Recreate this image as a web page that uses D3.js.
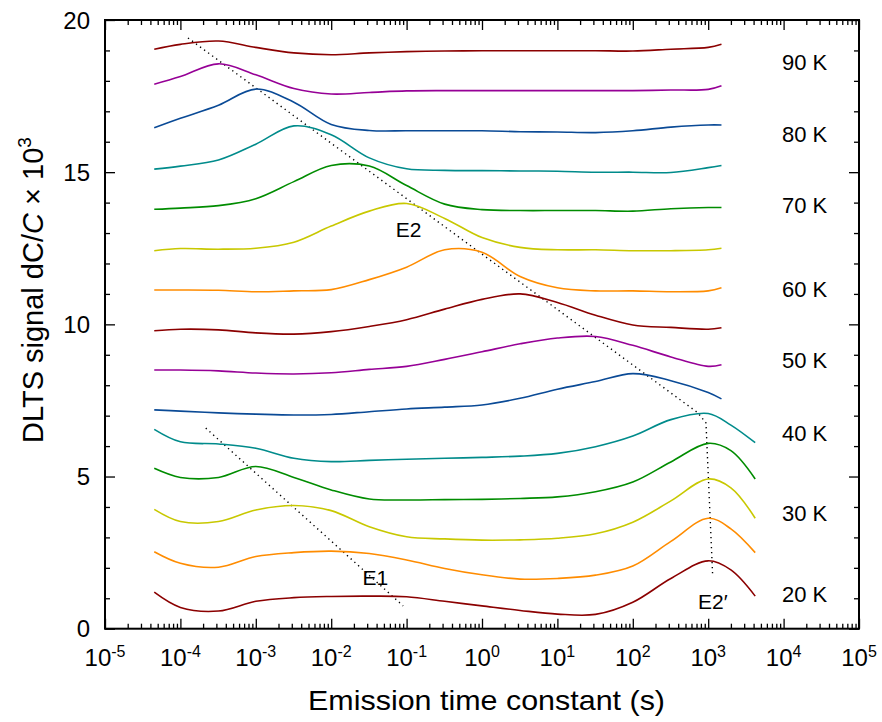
<!DOCTYPE html>
<html>
<head>
<meta charset="utf-8">
<script src="https://cdn.jsdelivr.net/npm/d3@7"></script>
<style>
  body { margin: 0; background: #fff; }
  text { font-family: "Liberation Sans", Arial, sans-serif; fill: #000; }
</style>
</head>
<body>
<div id="chart"></div>
<script>
const tauLow  = [4.5e-5, 1e-4, 3.2e-4, 1e-3, 3.2e-3, 0.01, 0.032, 0.1, 0.32, 1, 3.2, 10, 32, 100, 320, 1000, 2000, 4200];
const tauHigh = [4.5e-5, 1e-4, 3.2e-4, 1e-3, 3.2e-3, 0.01, 0.032, 0.1, 0.32, 1, 3.2, 10, 32, 100, 320, 1000, 1500];

// DLTS signal dC/C x 1e3 (curves offset vertically)
const s20 = [1.2, 0.7, 0.58, 0.9, 1.02, 1.06, 1.07, 1.05, 0.9, 0.75, 0.6, 0.48, 0.47, 0.87, 1.65, 2.23, 1.93, 1.07];
const s25 = [2.53, 2.15, 2.02, 2.37, 2.5, 2.55, 2.47, 2.26, 1.98, 1.77, 1.63, 1.65, 1.76, 2.06, 2.87, 3.63, 3.28, 2.5];
const s30 = [3.92, 3.52, 3.52, 3.9, 4.05, 3.88, 3.35, 3.02, 2.95, 2.91, 2.92, 2.97, 3.12, 3.5, 4.2, 4.92, 4.63, 3.63];
const s35 = [5.27, 4.97, 4.97, 5.33, 4.97, 4.56, 4.26, 4.23, 4.24, 4.25, 4.28, 4.33, 4.5, 4.82, 5.48, 6.09, 5.85, 4.92];
const s40 = [6.55, 6.14, 6.07, 5.93, 5.6, 5.49, 5.53, 5.57, 5.6, 5.63, 5.67, 5.76, 5.98, 6.33, 6.87, 7.07, 6.69, 6.11];
const s45 = [7.19, 7.15, 7.09, 7.05, 7.02, 7.04, 7.13, 7.22, 7.28, 7.35, 7.57, 7.87, 8.12, 8.38, 8.15, 7.76, 7.55];
const s50 = [8.5, 8.5, 8.47, 8.4, 8.37, 8.41, 8.52, 8.62, 8.85, 9.1, 9.36, 9.55, 9.6, 9.31, 8.93, 8.62, 8.67];
const s55 = [9.79, 9.84, 9.82, 9.72, 9.68, 9.76, 9.93, 10.15, 10.5, 10.82, 11.0, 10.72, 10.3, 9.98, 9.9, 9.84, 9.89];
const s60 = [11.13, 11.13, 11.12, 11.07, 11.1, 11.14, 11.47, 11.88, 12.45, 12.37, 11.57, 11.2, 11.1, 11.1, 11.07, 11.1, 11.2];
const s65 = [12.42, 12.49, 12.47, 12.5, 12.7, 13.23, 13.72, 13.97, 13.48, 12.85, 12.53, 12.45, 12.45, 12.42, 12.42, 12.45, 12.5];
const s70 = [13.78, 13.82, 13.9, 14.13, 14.69, 15.22, 15.2, 14.56, 13.95, 13.77, 13.74, 13.74, 13.74, 13.72, 13.8, 13.84, 13.84];
const s75 = [15.1, 15.2, 15.4, 15.92, 16.52, 16.23, 15.47, 15.11, 15.06, 15.05, 15.04, 15.03, 15.0, 15.0, 14.99, 15.15, 15.22];
const s80 = [16.46, 16.77, 17.2, 17.73, 17.3, 16.57, 16.37, 16.36, 16.36, 16.36, 16.33, 16.32, 16.3, 16.36, 16.48, 16.55, 16.55];
const s85 = [17.89, 18.14, 18.56, 18.2, 17.75, 17.57, 17.62, 17.67, 17.68, 17.68, 17.68, 17.68, 17.68, 17.68, 17.7, 17.72, 17.84];
const s90 = [19.04, 19.2, 19.31, 19.1, 18.92, 18.86, 18.92, 18.96, 18.98, 18.99, 18.99, 18.99, 18.99, 18.98, 19.04, 19.1, 19.2];

const temps = [20, 25, 30, 35, 40, 45, 50, 55, 60, 65, 70, 75, 80, 85, 90];
const spectra = [s20, s25, s30, s35, s40, s45, s50, s55, s60, s65, s70, s75, s80, s85, s90];
const palette = ["#8b0000", "#ff8c00", "#c8c800", "#008c00", "#008b8b", "#0a4a96", "#960096"];

// temperature labels at the right, and where their baselines sit (signal units)
const tempLabels = ["20 K", "30 K", "40 K", "50 K", "60 K", "70 K", "80 K", "90 K"];
const tempLabelY = [0.89, 3.55, 6.18, 8.56, 10.91, 13.65, 16.0, 18.36];

// dotted guide lines for the traps
const e1Tau = [2.17e-4, 0.09];
const e1Val = [6.59, 0.75];
const e2Tau = [1.26e-4, 733, 935, 1148];
const e2Val = [19.41, 7.09, 6.76, 1.70];

const trapNames = ["E2", "E1", "E2\u2032"];
const trapTau = [0.072, 0.026, 733];
const trapVal = [12.87, 1.44, 0.65];

// axis ticks
const xMajor = [1e-5, 1e-4, 1e-3, 1e-2, 1e-1, 1, 10, 100, 1e3, 1e4, 1e5];
const xExp = ["-5", "-4", "-3", "-2", "-1", "0", "1", "2", "3", "4", "5"];
const yMajor = [0, 5, 10, 15, 20];

const xMinor = [];
xMajor.slice(0, -1).forEach(d => {
    for (let k = 2; k <= 9; k++) xMinor.push(k * d);
});
const yMinor = d3.range(0, 21).filter(v => v % 5 !== 0);

const W = 882, H = 722;
const plotLeft = 105, plotRight = 859, plotTop = 20, plotBottom = 628.7;

const svg = d3.select("#chart").append("svg")
    .attr("width", W)
    .attr("height", H);

const x = d3.scaleLog().domain([1e-5, 1e5]).range([plotLeft, plotRight]);
const y = d3.scaleLinear().domain([0, 20]).range([plotBottom, plotTop]);

// ticks on all four sides, pointing inward
function ticks(axis, transform, values, size) {
    const g = svg.append("g")
        .attr("transform", transform)
        .call(axis.tickValues(values).tickSize(size).tickFormat(""));
    g.select(".domain").remove();
    g.selectAll("line").attr("stroke", "#000").attr("stroke-width", 1.3);
    return g;
}
ticks(d3.axisBottom(x), `translate(0,${plotBottom})`, xMinor, -5);
ticks(d3.axisBottom(x), `translate(0,${plotBottom})`, xMajor, -10);
ticks(d3.axisTop(x), `translate(0,${plotTop})`, xMinor, -5);
ticks(d3.axisTop(x), `translate(0,${plotTop})`, xMajor, -10);
ticks(d3.axisLeft(y), `translate(${plotLeft},0)`, yMinor, -5);
ticks(d3.axisLeft(y), `translate(${plotLeft},0)`, yMajor, -10);
ticks(d3.axisRight(y), `translate(${plotRight},0)`, yMinor, -5);
ticks(d3.axisRight(y), `translate(${plotRight},0)`, yMajor, -10);

svg.append("rect")
    .attr("x", plotLeft)
    .attr("y", plotTop)
    .attr("width", plotRight - plotLeft)
    .attr("height", plotBottom - plotTop)
    .attr("fill", "none")
    .attr("stroke", "#000")
    .attr("stroke-width", 2);

// y tick labels
svg.append("g").selectAll("text")
    .data(yMajor)
    .enter()
    .append("text")
    .attr("x", plotLeft - 15)
    .attr("y", d => y(d))
    .attr("dy", "0.36em")
    .attr("text-anchor", "end")
    .attr("font-size", 24)
    .text(d => d);

// x tick labels, 10 with a raised exponent
const xl = svg.append("g").selectAll("text")
    .data(xMajor)
    .enter()
    .append("text")
    .attr("x", d => x(d))
    .attr("y", plotBottom + 37)
    .attr("text-anchor", "middle")
    .attr("font-size", 24);
xl.append("tspan").text("10");
xl.append("tspan")
    .attr("dy", -9)
    .attr("font-size", 16)
    .text((d, i) => xExp[i]);

// axis titles
svg.append("text")
    .attr("x", 308)
    .attr("y", 710)
    .attr("font-size", 28)
    .attr("textLength", 357)
    .attr("lengthAdjust", "spacingAndGlyphs")
    .text("Emission time constant (s)");

const yt = svg.append("text")
    .attr("transform", "translate(43,443) rotate(-90)")
    .attr("font-size", 29);
yt.append("tspan").text("DLTS signal dC/");
yt.append("tspan").attr("font-style", "italic").text("C");
yt.append("tspan").text(" \u00d7 10");
yt.append("tspan").attr("dy", -12).attr("font-size", 19).text("3");

// dotted guides
const guide = d3.line().x(d => x(d[0])).y(d => y(d[1]));
[[e1Tau, e1Val], [e2Tau, e2Val]].forEach(([t, v]) => {
    svg.append("path")
        .attr("d", guide(t.map((d, i) => [d, v[i]])))
        .attr("fill", "none")
        .attr("stroke", "#000")
        .attr("stroke-width", 1.4)
        .attr("stroke-dasharray", "1.3 3.7");
});

// spectra
const line = d3.line()
    .x(d => x(d[0]))
    .y(d => y(d[1]))
    .curve(d3.curveCatmullRom.alpha(0.5));

svg.append("g").selectAll("path")
    .data(spectra)
    .enter()
    .append("path")
    .attr("d", (s, i) => {
        const tau = s.length === tauLow.length ? tauLow : tauHigh;
        return line(s.map((v, j) => [tau[j], v]));
    })
    .attr("fill", "none")
    .attr("stroke", (s, i) => palette[i % palette.length])
    .attr("stroke-width", 1.6);

// temperature labels
svg.append("g").selectAll("text")
    .data(tempLabels)
    .enter()
    .append("text")
    .attr("x", 782)
    .attr("y", (d, i) => y(tempLabelY[i]))
    .attr("font-size", 22)
    .text(d => d);

// trap labels
svg.append("g").selectAll("text")
    .data(trapNames)
    .enter()
    .append("text")
    .attr("x", (d, i) => x(trapTau[i]))
    .attr("y", (d, i) => y(trapVal[i]))
    .attr("font-size", 21)
    .text(d => d);
</script>
</body>
</html>
